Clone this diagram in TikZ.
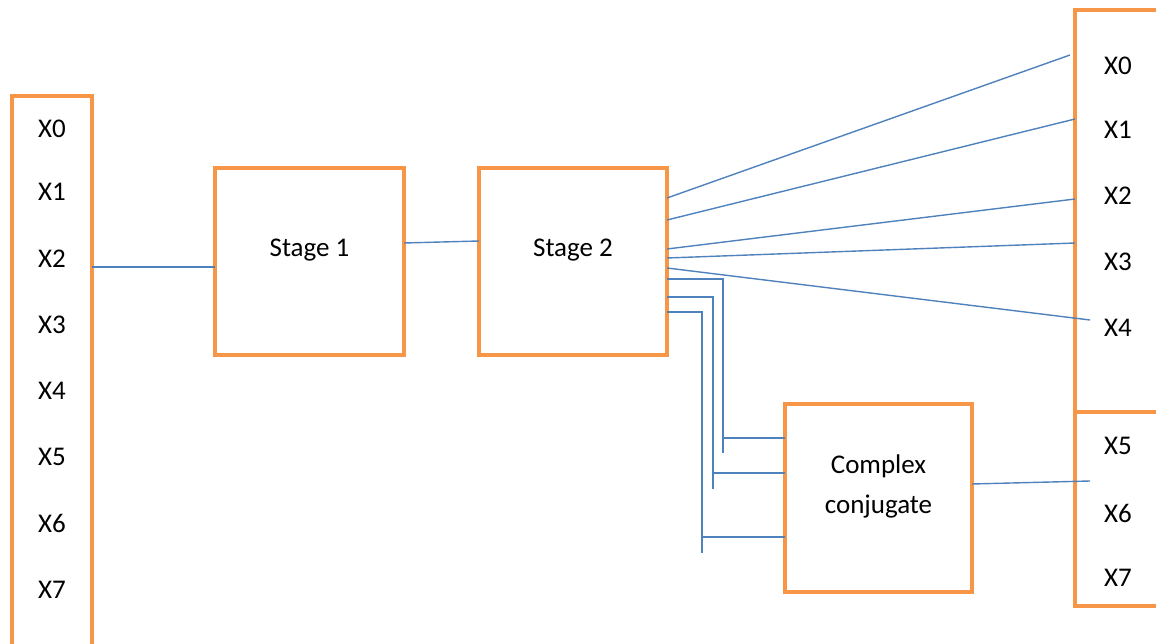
\documentclass[tikz,border=0pt]{standalone}
\usepackage{fontspec}
\setmainfont{Carlito}
\usetikzlibrary{calc}
\definecolor{boxorange}{RGB}{247,150,70}
\definecolor{lineblue}{RGB}{79,129,189}
\begin{document}
\begin{tikzpicture}[x=1pt,y=-1pt,
  blk/.style={draw=boxorange,line width=4pt,inner sep=0pt,outer sep=0pt,fill=white},
  lbl/.style={font=\fontsize{27}{32}\selectfont,text=black,inner sep=0pt},
  wire/.style={draw=lineblue,line width=1.4pt}]
\useasboundingbox (0,0) rectangle (1156,644);
\clip (0,0) rectangle (1156,644);
% boxes
\node[blk,minimum width=80pt,minimum height=560pt] (lb) at (52,376) {};
\node[blk,minimum width=189pt,minimum height=187pt] (s1) at (309.5,261.5) {};
\node[blk,minimum width=188pt,minimum height=187pt] (s2) at (573,261.5) {};
\node[blk,minimum width=187pt,minimum height=188pt] (cc) at (878.5,498) {};
\node[blk,minimum width=130pt,minimum height=402pt] (rt) at (1140,211) {};
\node[blk,minimum width=130pt,minimum height=194pt] (rb) at (1140,509) {};
% texts
\node[lbl] (s1t) at ([yshift=11pt]s1.center) {Stage 1};
\node[lbl] (s2t) at ([yshift=11pt]s2.center) {Stage 2};
\node[lbl,align=center,font=\fontsize{27}{40}\selectfont] (cct) at ([yshift=12pt]cc.center) {Complex\\conjugate};
\foreach \n/\y in {0/129,1/192,2/259,3/325,4/391,5/457,6/523,7/590}
  \node[lbl] (l\n) at (52,\y) {X\n};
\foreach \n/\y in {0/66,1/130,2/196,3/262,4/328,5/446,6/513,7/578}
  \node[lbl] (r\n) at (1118,\y) {X\n};
% wires
\draw[wire] ([yshift=-171pt]lb.north east) -- ([yshift=-99pt]s1.north west);
\draw[wire] ([yshift=18.5pt]s1.east) -- ([yshift=20.5pt]s2.west);
\draw[wire] ([yshift=-30pt]s2.north east) -- ([xshift=-5pt,yshift=-45pt]rt.north west);
\draw[wire] ([yshift=-52pt]s2.north east) -- ([yshift=-109pt]rt.north west);
\draw[wire] ([yshift=-81pt]s2.north east) -- ([yshift=-189pt]rt.north west);
\draw[wire] ([yshift=-90pt]s2.north east) -- ([yshift=-233pt]rt.north west);
\draw[wire] ([yshift=-100pt]s2.north east) -- ([xshift=15pt,yshift=-310pt]rt.north west);
% to complex conjugate
\coordinate (v1) at (723,453);
\coordinate (v2) at (713,489);
\coordinate (v3) at (702,553);
\draw[wire] ([yshift=-111pt]s2.north east) -| (v1);
\draw[wire] ([yshift=-129pt]s2.north east) -| (v2);
\draw[wire] ([yshift=-144pt]s2.north east) -| (v3);
\draw[wire] ([yshift=-34pt]cc.north west) -- ([yshift=-34pt]cc.north west -| v1);
\draw[wire] ([yshift=-69pt]cc.north west) -- ([yshift=-69pt]cc.north west -| v2);
\draw[wire] ([yshift=-133pt]cc.north west) -- ([yshift=-133pt]cc.north west -| v3);
\draw[wire] ([yshift=14pt]cc.east) -- ([xshift=15pt,yshift=-69pt]rb.north west);
\end{tikzpicture}
\end{document}
